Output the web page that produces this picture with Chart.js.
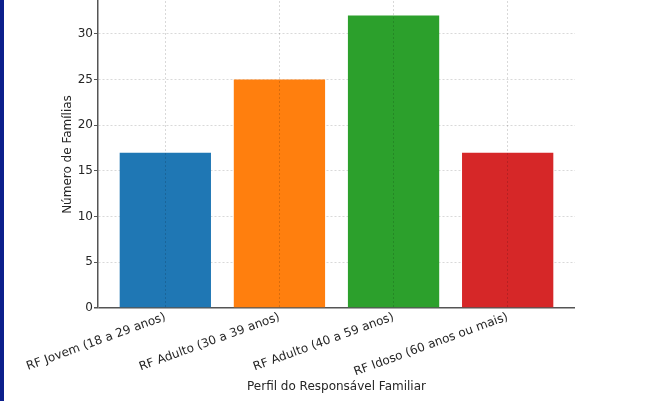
<!DOCTYPE html>
<html>
<head>
<meta charset="utf-8">
<script src="https://cdn.jsdelivr.net/npm/chart.js@4.4.0/dist/chart.umd.min.js"></script>
<style>
  html, body { margin: 0; padding: 0; background: #ffffff; }
  #wrap { position: relative; width: 662px; height: 401px; overflow: hidden; }
  #strip { position: absolute; left: 0; top: 0; width: 4px; height: 401px; background: #0c1f8c; z-index: 2; }
  canvas { position: absolute; left: 0; top: 0; }
</style>
</head>
<body>
<div id="wrap">
  <div id="strip"></div>
  <canvas id="perfilChart" width="662" height="401"></canvas>
</div>
<script>
// Data
const categories = ['RF Jovem (18 a 29 anos)', 'RF Adulto (30 a 39 anos)', 'RF Adulto (40 a 59 anos)', 'RF Idoso (60 anos ou mais)'];
const familyCounts = [17, 25, 32, 17];
const barColors = ['#1f77b4', '#ff7f0e', '#2ca02c', '#d62728'];
const yTicks = [0, 5, 10, 15, 20, 25, 30];

const textColor = '#262626';
const gridColor = 'rgba(0, 0, 0, 0.15)';
const axisColor = '#555555';
const baseFont = { family: "'DejaVu Sans', sans-serif", size: 12 };

const points = categories.map((c, i) => ({ x: i, y: familyCounts[i] }));

// drop the automatic label padding so the plot area reaches the top edge like the original
const noPad = (scale) => {
    scale.paddingTop = 0;
    scale.paddingBottom = 0;
    scale.paddingLeft = 0;
    scale.paddingRight = 0;
};

// the y grid line at zero doubles as the bottom spine
const isZero = (ctx) => ctx.tick && ctx.tick.value === 0;

new Chart(document.getElementById('perfilChart').getContext('2d'), {
    type: 'bar',
    data: {
        datasets: [{
            label: 'Número de Famílias',
            data: points,
            backgroundColor: barColors,
            borderWidth: 0,
            barPercentage: 0.8,
            categoryPercentage: 1.0
        }]
    },
    options: {
        responsive: false,
        animation: false,
        layout: { padding: { left: 0, right: 87, top: 1, bottom: 0 } },
        plugins: {
            legend: { display: false },
            tooltip: { enabled: false }
        },
        scales: {
            x: {
                type: 'linear',
                min: -0.59,
                max: 3.59,
                offset: false,
                afterFit: (scale) => { scale.height = 93; noPad(scale); },
                afterBuildTicks: (scale) => {
                    scale.ticks = categories.map((c, i) => ({ value: i }));
                },
                ticks: {
                    color: textColor,
                    font: baseFont,
                    maxRotation: 20,
                    minRotation: 20,
                    padding: 2,
                    autoSkip: false,
                    callback: (v) => categories[v] || ''
                },
                grid: {
                    offset: false,
                    color: gridColor,
                    lineWidth: 1,
                    drawTicks: false,
                    z: 1
                },
                border: { display: false, dash: [2, 2] },
                title: {
                    display: true,
                    text: 'Perfil do Responsável Familiar',
                    color: textColor,
                    font: baseFont,
                    padding: { top: 0, bottom: 7 }
                }
            },
            y: {
                min: 0,
                max: 33.6,
                afterFit: (scale) => { scale.width = 98; noPad(scale); },
                afterBuildTicks: (scale) => {
                    scale.ticks = yTicks.map(v => ({ value: v }));
                },
                ticks: {
                    color: textColor,
                    font: baseFont,
                    padding: 1
                },
                grid: {
                    color: (ctx) => isZero(ctx) ? axisColor : gridColor,
                    lineWidth: (ctx) => isZero(ctx) ? 1.5 : 1,
                    tickBorderDash: [],
                    tickColor: axisColor,
                    tickLength: 4
                },
                border: {
                    display: true,
                    color: axisColor,
                    width: 1.5,
                    dash: (ctx) => isZero(ctx) ? [] : [2, 2]
                },
                title: {
                    display: true,
                    text: 'Número de Famílias',
                    color: textColor,
                    font: baseFont,
                    padding: { top: 61, bottom: 0 }
                }
            }
        }
    }
});
</script>
</body>
</html>
